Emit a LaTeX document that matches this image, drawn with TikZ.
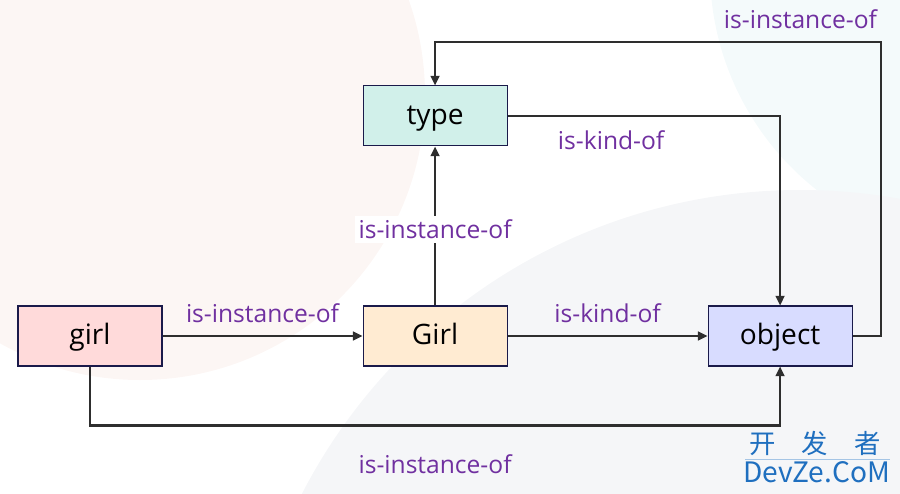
\documentclass[tikz,border=0pt]{standalone}
\usepackage{fontspec}
\setmainfont{Open Sans}
\newfontfamily\cjkfont{Noto Sans CJK SC}
\usetikzlibrary{arrows.meta, positioning, calc}
\definecolor{boxline}{HTML}{1A1A4A}
\definecolor{linegray}{HTML}{2E2E2E}
\definecolor{relpurple}{HTML}{7030A0}
\definecolor{girlfill}{HTML}{FFDADA}
\definecolor{classfill}{HTML}{FFEBD2}
\definecolor{typefill}{HTML}{D1F0EA}
\definecolor{objfill}{HTML}{D8DCFF}
\definecolor{bgpink}{HTML}{FCF6F4}
\definecolor{bgcyan}{HTML}{F4FAFB}
\definecolor{bggray}{HTML}{F5F6F8}
\definecolor{wmblue}{HTML}{1F6FBF}
\tikzset{
  box/.style={
    rectangle, draw=boxline, line width=0.6pt, minimum width=2.88cm, minimum height=1.2cm,
    text centered, text height=2.2ex, text depth=0.3ex, font=\fontsize{16}{18}\selectfont
  },
  rel/.style={
    text=relpurple, font=\fontsize{14}{16}\selectfont, inner sep=2pt
  },
  arrow/.style={
    -{Triangle[length=5.5pt,width=5pt]}, line width=1.2pt, draw=linegray
  }
}

\begin{document}
\begin{tikzpicture}
\useasboundingbox (0,0) rectangle (18,-9.86);

% background
\begin{scope}
  \clip (0,0) rectangle (18,-9.86);
  \fill[bgpink] (2.8,-1.9) circle (5.7);
  \fill[bgcyan] (19.8,0.6) circle (5.6);
  \fill[bggray] (16,-15) circle (11.2);
\end{scope}

\node[box, fill=girlfill] (girl) at (1.8,-6.72) {girl};
\node[box, fill=classfill, right=4cm of girl] (Girl) {Girl};
\node[box, fill=objfill, right=4cm of Girl] (object) {object};
\node[box, fill=typefill, above=3.18cm of Girl] (type) {type};

\coordinate (top) at ($(type.north)+(0,0.86)$);
\coordinate (low) at ($(girl.south)+(0,-1.18)$);

\draw[arrow] (girl) -- node[rel, yshift=0.46cm] {is-instance-of} (Girl);
\draw[arrow] (Girl) -- node[rel, yshift=0.46cm] {is-kind-of} (object);
\draw[arrow] (Girl) -- node[rel, fill=white, yshift=-0.07cm] {is-instance-of} (type);
\draw[arrow] (type.east) -| node[rel, pos=0.19, yshift=-0.48cm] {is-kind-of} (object.north);
\draw[arrow] (object.east) -- ++(0.56,0) |- node[rel, pos=0.59, yshift=0.46cm] {is-instance-of} (top) -- (type.north);
\draw[arrow] (girl.south) -- (low) -| node[rel, pos=0.25, yshift=-0.78cm] {is-instance-of} (object.south);

% watermark
\node[text=wmblue, font=\cjkfont\fontsize{15}{18}\selectfont, inner sep=0pt] (wmcn) at (16.3,-8.86) {开\hspace{0.52cm}发\hspace{0.52cm}者};
\node[text=wmblue, font=\cjkfont\fontsize{16}{18}\selectfont, inner sep=0pt] (wmen) at (16.33,-9.44) {DevZe.CoM};
\draw[wmblue!40, line width=0.5pt] (14.9,-9.18) -- (17.8,-9.18);
\end{tikzpicture}
\end{document}
